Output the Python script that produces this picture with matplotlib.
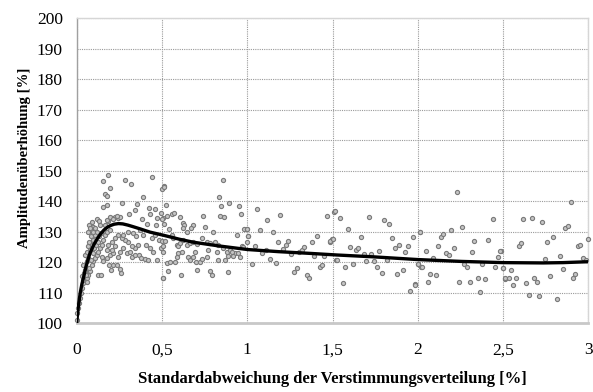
import matplotlib
matplotlib.use("Agg")
import matplotlib.pyplot as plt

# scatter data (x = Standardabweichung [%], y = Amplitudenüberhöhung [%])
scatter_x = [
    # region 0 - 0.5
    0.156, 0.181, 0.283, 0.316, 0.441, 0.195, 0.164, 0.176, 0.39, 0.5, 0.514,
    0.156, 0.18, 0.265, 0.355, 0.422, 0.459, 0.305, 0.342, 0.43, 0.492, 0.381,
    0.469, 0.508, 0.463, 0.414, 0.514, 0.117, 0.129, 0.092, 0.074, 0.098, 0.068,
    0.078, 0.107, 0.137, 0.166, 0.186, 0.205, 0.225, 0.244, 0.254, 0.176, 0.195,
    0.215, 0.234,
    0.0, 0.004, 0.01, 0.015, 0.019, 0.025, 0.029, 0.035, 0.039, 0.031, 0.043,
    0.049, 0.055, 0.039, 0.058, 0.068, 0.049, 0.058, 0.078, 0.068, 0.088, 0.074,
    0.098, 0.082, 0.107, 0.094,
    0.058, 0.068, 0.049, 0.078, 0.062, 0.055, 0.074, 0.088, 0.098, 0.082, 0.107,
    0.117, 0.094, 0.127, 0.102, 0.137, 0.113, 0.146, 0.127, 0.156, 0.133, 0.166,
    0.14, 0.176, 0.195, 0.117,
    0.127, 0.14, 0.199, 0.211, 0.191, 0.234, 0.258, 0.254, 0.156, 0.176, 0.146,
    0.195, 0.215, 0.244, 0.254, 0.273, 0.293, 0.313, 0.322, 0.342, 0.367, 0.375,
    0.4, 0.42, 0.472, 0.449, 0.43, 0.406, 0.361, 0.342, 0.322, 0.303, 0.283,
    0.264, 0.244, 0.225, 0.205, 0.186, 0.225, 0.205, 0.176, 0.273, 0.303, 0.328,
    0.348, 0.371, 0.39, 0.439, 0.459, 0.484, 0.492, 0.504, 0.508,
    # region 0.5 - 1
    0.51, 0.855, 0.836, 0.848, 0.894, 0.953, 0.523, 0.527, 0.556, 0.57, 0.498,
    0.605, 0.621, 0.629, 0.625, 0.68, 0.672, 0.742, 0.84, 0.863, 0.965, 0.752,
    0.539, 0.644, 0.80, 0.937, 0.98, 1.0, 1.004, 0.498, 0.515, 0.556, 0.566,
    0.586, 0.595, 0.605, 0.625, 0.644, 0.664, 0.683, 0.703, 0.732, 0.762, 0.781,
    0.81, 0.83, 0.859, 0.879, 0.898, 0.928, 0.947, 0.969, 0.504, 0.531, 0.547,
    0.576, 0.586, 0.595, 0.615, 0.654, 0.664, 0.683, 0.693, 0.699, 0.723, 0.732,
    0.762, 0.771, 0.82, 0.83, 0.869, 0.889, 0.908, 0.918, 0.957, 0.977, 0.508,
    0.535, 0.609, 0.707, 0.781, 0.791, 0.887, 1.0,
    # region 1 - 1.5
    1.057, 1.117, 1.194, 1.467, 1.51, 0.996, 1.006, 1.072, 1.153, 1.178, 1.225,
    1.24, 1.409, 1.485, 1.498, 1.045, 1.108, 1.088, 1.209, 1.256, 1.303, 1.319,
    1.33, 1.377, 1.393, 1.452, 1.03, 1.133, 1.166, 1.29, 1.274, 1.348, 1.362,
    1.424, 1.44, 1.518,
    # region 1.5 - 2
    1.514, 1.543, 1.711, 1.8, 1.833, 1.59, 1.485, 1.5, 1.665, 1.846, 1.969,
    2.012, 1.602, 1.637, 1.651, 1.684, 1.725, 1.772, 1.864, 1.891, 1.924, 1.94,
    1.528, 1.575, 1.622, 1.696, 1.741, 1.758, 1.821, 1.788, 1.88, 1.911, 1.559,
    1.954, 1.985, 2.0, 2.018,
    # region 2 - 2.5
    2.227, 2.438, 2.014, 2.194, 2.257, 2.135, 2.149, 2.331, 2.409, 2.12, 2.214,
    2.046, 2.165, 2.182, 2.315, 2.487, 2.468, 2.09, 1.999, 2.026, 2.272, 2.288,
    2.378, 2.452, 2.499, 2.073, 2.106, 2.061, 2.241, 2.303, 2.35, 2.393, 2.366,
    1.983, 2.51,
    # region 2.5 - 3
    2.895, 2.618, 2.667, 2.727, 2.864, 2.88, 2.79, 2.755, 2.997, 2.59, 2.606,
    2.936, 2.952, 2.481, 2.833, 2.743, 2.97, 2.985, 2.497, 2.547, 2.848, 2.512,
    2.532, 2.575, 2.68, 2.696, 2.774, 2.923, 2.907, 2.559, 2.633, 2.653, 2.712,
    2.817,
]
scatter_y = [
    146.7, 148.4, 146.8, 145.5, 147.9, 144.2, 142.2, 141.5, 141.3, 143.8, 144.9,
    137.9, 138.7, 139.5, 139.0, 137.6, 137.3, 135.6, 137.1, 135.6, 136.2, 134.1,
    134.3, 134.3, 132.2, 132.4, 132.4, 134.0, 133.5, 133.1, 132.0, 131.6, 130.0,
    131.1, 131.1, 132.2, 132.2, 133.3, 134.4, 134.6, 134.4, 134.9, 133.9, 134.6,
    134.2, 135.0,
    101.0, 103.2, 104.9, 106.5, 108.2, 109.8, 111.4, 113.1, 114.2, 115.3, 116.4,
    117.4, 118.5, 119.1, 120.2, 121.2, 122.3, 123.4, 124.0, 125.1, 125.6, 126.7,
    127.3, 128.4, 128.9, 130.0,
    114.7, 115.8, 116.9, 116.9, 113.6, 115.8, 118.0, 119.1, 120.2, 120.7, 121.2,
    122.3, 122.9, 123.4, 124.5, 124.5, 125.6, 125.6, 126.7, 127.3, 128.4, 128.9,
    129.5, 130.0, 130.5, 130.0,
    115.8, 115.8, 117.4, 119.1, 119.1, 119.1, 116.3, 117.7, 120.2, 121.2, 121.8,
    122.3, 122.9, 121.8, 123.4, 124.5, 122.9, 123.2, 121.8, 122.3, 122.3, 121.2,
    121.0, 120.7, 120.7, 123.4, 124.5, 125.6, 125.6, 124.5, 125.1, 126.7, 127.3,
    127.8, 128.7, 127.8, 126.7, 125.6, 125.1, 124.0, 124.0, 128.9, 130.0, 129.5,
    128.4, 130.5, 128.9, 127.8, 128.7, 127.3, 124.5, 125.1, 114.7,
    144.5, 147.0, 141.4, 138.5, 139.5, 138.3, 138.7, 135.0, 135.7, 136.2, 134.0,
    134.8, 132.7, 132.0, 131.1, 132.0, 131.1, 135.1, 135.1, 134.6, 135.7, 131.6,
    130.8, 130.0, 129.7, 128.9, 130.9, 130.9, 128.4, 126.9, 126.9, 128.9, 127.8,
    125.6, 125.1, 126.2, 127.3, 125.6, 126.2, 126.7, 125.9, 127.8, 126.7, 126.2,
    126.5, 125.6, 124.5, 123.4, 124.0, 122.9, 122.9, 125.1, 123.4, 119.6, 119.9,
    119.9, 121.8, 122.9, 123.2, 121.8, 120.7, 121.8, 123.2, 119.9, 119.9, 121.0,
    121.8, 124.0, 123.2, 120.7, 120.7, 122.1, 123.2, 122.1, 121.8, 124.8, 114.7,
    117.2, 115.6, 117.5, 117.1, 115.8, 116.7, 126.7,
    137.3, 133.9, 135.4, 135.2, 136.5, 130.9, 128.4, 130.5, 129.8, 126.5, 125.6,
    126.9, 128.6, 126.7, 127.6, 125.3, 124.0, 122.8, 124.3, 122.7, 123.2, 124.0,
    124.9, 126.4, 121.9, 121.9, 119.3, 121.0, 119.7, 118.0, 116.8, 115.8, 114.7,
    118.5, 118.9, 120.6,
    136.6, 134.4, 134.9, 133.8, 132.5, 130.8, 126.9, 127.6, 128.1, 128.0, 128.1,
    130.0, 124.8, 124.0, 124.6, 122.7, 122.7, 123.7, 124.6, 125.6, 123.2, 125.1,
    120.6, 118.4, 119.3, 120.2, 120.2, 118.5, 120.7, 116.3, 116.2, 117.4, 113.2,
    110.5, 112.8, 119.4, 118.3,
    142.9, 134.2, 129.9, 130.5, 131.5, 128.3, 129.1, 126.8, 127.2, 125.4, 124.6,
    123.7, 123.0, 122.4, 123.2, 123.7, 121.8, 121.2, 119.3, 118.4, 119.3, 118.5,
    119.3, 118.5, 118.0, 116.0, 115.9, 113.4, 113.6, 113.6, 114.7, 114.5, 110.2,
    112.4, 114.3,
    139.6, 134.2, 134.4, 133.0, 131.1, 131.9, 128.3, 126.7, 127.4, 125.2, 126.1,
    125.3, 125.7, 123.7, 122.0, 121.0, 121.3, 120.5, 118.0, 117.3, 117.6, 114.7,
    114.7, 114.9, 114.9, 113.3, 115.5, 116.2, 114.9, 112.5, 113.1, 109.2, 108.7,
    107.8,
]

# fitted curve
curve_x = [0.0, 0.01, 0.02, 0.03, 0.04, 0.055, 0.078, 0.1, 0.117, 0.14, 0.16,
           0.18, 0.2, 0.22, 0.245, 0.27, 0.3, 0.33, 0.37, 0.43, 0.514, 0.6,
           0.683, 0.83, 1.0, 1.182, 1.377, 1.526, 1.739, 2.0, 2.253, 2.5, 2.735,
           2.85, 3.0]
curve_y = [100.3, 105.4, 109.6, 112.6, 114.9, 118.6, 122.9, 125.6, 127.3, 129.2,
           130.5, 131.4, 132.0, 132.4, 132.6, 132.5, 132.1, 131.6, 130.9, 129.8,
           128.7, 127.5, 126.5, 125.3, 124.1, 123.4, 122.8, 122.3, 121.7, 120.8,
           120.2, 119.8, 119.7, 119.8, 120.1]

xticks = [0, 0.5, 1, 1.5, 2, 2.5, 3]
xtick_labels = ["0", "0,5", "1", "1,5", "2", "2,5", "3"]
yticks = [100, 110, 120, 130, 140, 150, 160, 170, 180, 190, 200]

plt.rcParams['font.family'] = ['Liberation Serif', 'DejaVu Serif']

fig = plt.figure(figsize=(5.93, 3.92), dpi=100)
ax = fig.add_axes([0.1293, 0.176, 0.8631, 0.778])

ax.scatter(scatter_x, scatter_y, s=9, facecolor='#c4c4c4', edgecolor='#7a7a7a',
           linewidths=0.8, zorder=3, clip_on=False)
ax.plot(curve_x, curve_y, color='black', linewidth=2.4, zorder=4,
        solid_capstyle='round', solid_joinstyle='round')

ax.set_xlim(0, 3)
ax.set_ylim(100, 200)
ax.set_xticks(xticks)
ax.set_xticklabels(xtick_labels)
ax.set_yticks(yticks)

ax.grid(True, linestyle=(0, (1, 1)), color='#9a9a9a', linewidth=0.8)
ax.set_axisbelow(True)

for side in ['top', 'right']:
    ax.spines[side].set_color('#d6d6d6')
    ax.spines[side].set_linewidth(1.0)
ax.spines['left'].set_color('#a0a0a0')
ax.spines['left'].set_linewidth(1.0)
ax.spines['bottom'].set_color('#c8c8c8')
ax.spines['bottom'].set_linewidth(2.0)

ax.tick_params(axis='both', length=0, labelsize=12.5, colors='black')
ax.tick_params(axis='y', pad=10)
ax.tick_params(axis='x', pad=14)

ax.set_xlabel("Standardabweichung der Verstimmungsverteilung [%]",
              fontsize=12, fontweight='bold', labelpad=9)
ax.set_ylabel("Amplitudenüberhöhung [%]", fontsize=10.6, fontweight='bold')
ax.yaxis.set_label_coords(-0.09, 0.543)

fig.savefig("out.png", dpi=100)
